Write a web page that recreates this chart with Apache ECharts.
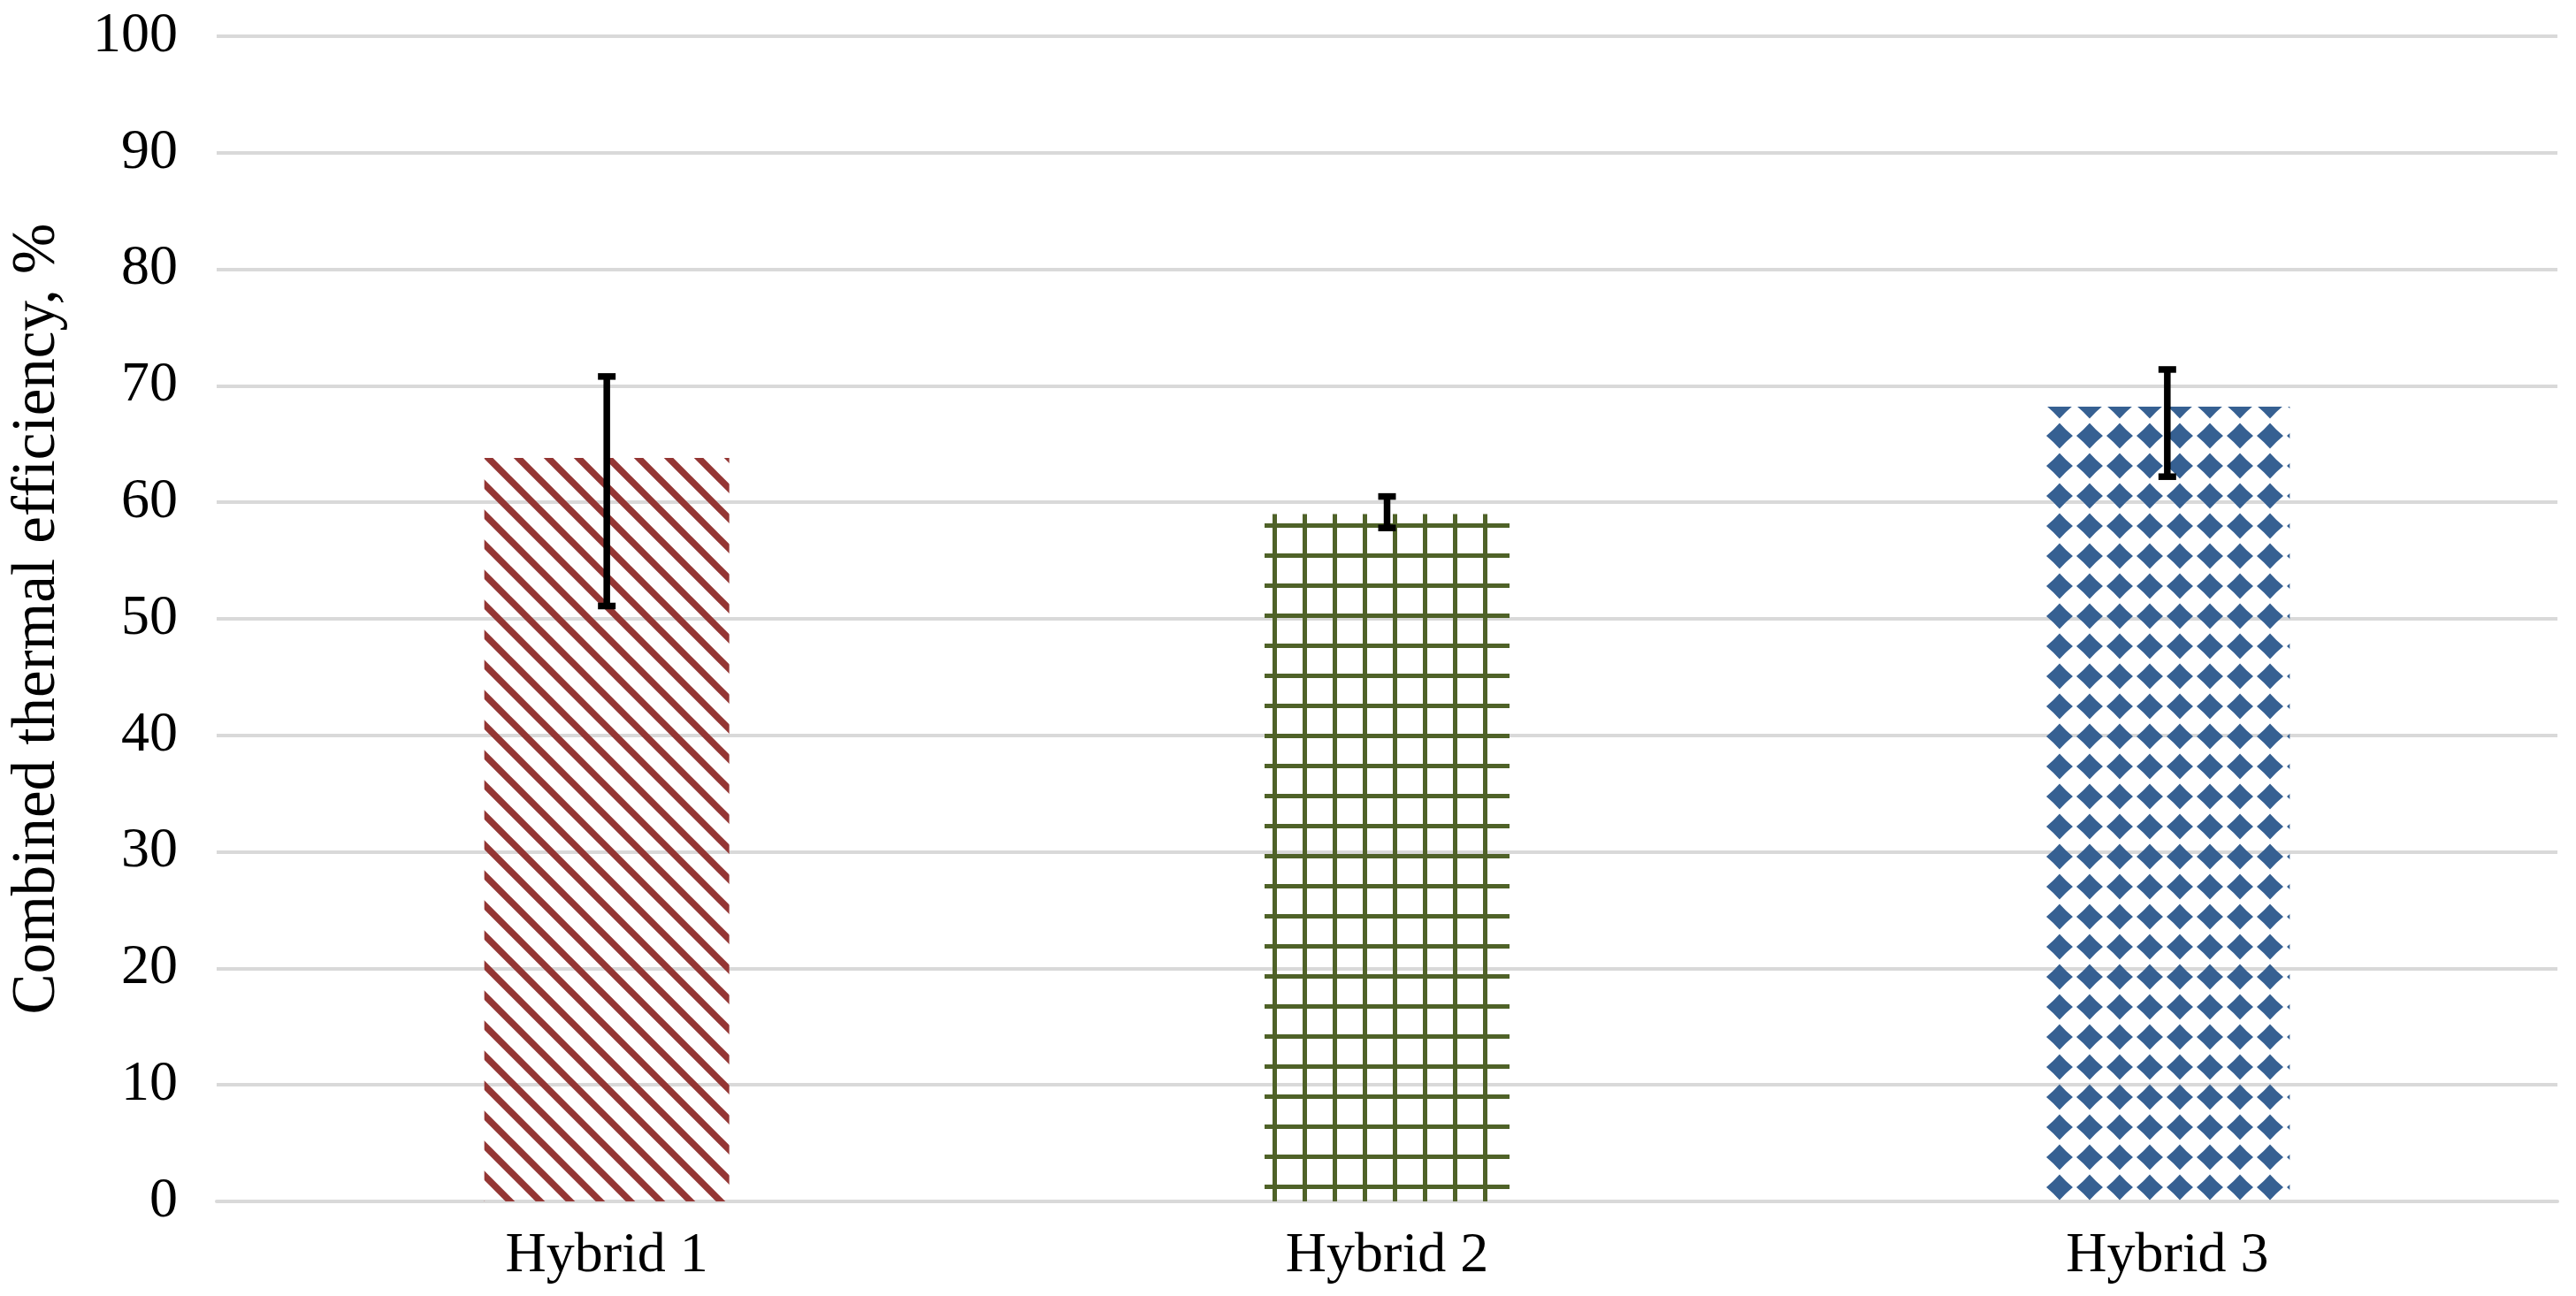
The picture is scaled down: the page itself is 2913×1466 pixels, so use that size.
<!DOCTYPE html>
<html>
<head>
<meta charset="utf-8">
<script src="https://cdn.jsdelivr.net/npm/echarts@6/dist/echarts.min.js"></script>
<style>
html,body{margin:0;padding:0;background:#fff;}
#chart{width:2913px;height:1466px;}
</style>
</head>
<body>
<div id="chart"></div>
<script>
// ---- data ----
const categories = ['Hybrid 1', 'Hybrid 2', 'Hybrid 3'];
const efficiency = [63.8, 59.0, 68.2];
const errLow = [51.1, 57.8, 62.2];
const errHigh = [70.8, 60.5, 71.4];
const yMin = 0, yMax = 100, yStep = 10;
const yTitle = 'Combined thermal efficiency, %';

// ---- patterns (style only) ----
function tile(draw) {
  const c = document.createElement('canvas');
  c.width = 34; c.height = 34;
  const ctx = c.getContext('2d');
  draw(ctx);
  return c;
}
const stripeTile = tile(ctx => {
  ctx.strokeStyle = '#943634';
  ctx.lineWidth = 7.5;
  ctx.beginPath();
  [-34, 0, 34].forEach(o => { ctx.moveTo(o - 10, -10); ctx.lineTo(o + 44, 44); });
  ctx.stroke();
});
const gridTile = tile(ctx => {
  ctx.fillStyle = '#4F6228';
  ctx.fillRect(11, 0, 5, 34);
  ctx.fillRect(0, 14, 34, 5);
});
const diamondTile = tile(ctx => {
  ctx.fillStyle = '#366092';
  const cx = 17, cy = 17, w = 15, h = 14.5, k = 6.8;
  ctx.beginPath();
  ctx.moveTo(cx - w, cy);
  ctx.quadraticCurveTo(cx - k, cy - k, cx, cy - h);
  ctx.quadraticCurveTo(cx + k, cy - k, cx + w, cy);
  ctx.quadraticCurveTo(cx + k, cy + k, cx, cy + h);
  ctx.quadraticCurveTo(cx - k, cy + k, cx - w, cy);
  ctx.closePath();
  ctx.fill();
});
const tiles = [stripeTile, gridTile, diamondTile];

const FONT = '"Liberation Serif", "DejaVu Serif", serif';
const chart = echarts.init(document.getElementById('chart'), null, {renderer: 'canvas'});

const barData = efficiency.map((v, i) => ({
  value: v,
  itemStyle: {color: {image: tiles[i], repeat: 'repeat'}}
}));
const errData = categories.map((c, i) => [i, errLow[i], errHigh[i]]);

chart.setOption({
  animation: false,
  backgroundColor: '#ffffff',
  grid: {left: 242, right: 21, top: 41, bottom: 107, containLabel: false},
  xAxis: {
    type: 'category',
    data: categories,
    axisLine: {show: true, lineStyle: {color: '#d9d9d9', width: 4}},
    axisTick: {show: false},
    axisLabel: {color: '#000', fontFamily: FONT, fontSize: 64, margin: 30}
  },
  yAxis: {
    type: 'value',
    min: yMin, max: yMax, interval: yStep,
    name: yTitle,
    nameLocation: 'middle',
    nameGap: 168,
    nameTextStyle: {color: '#000', fontFamily: FONT, fontSize: 69},
    axisLine: {show: false},
    axisTick: {show: false},
    axisLabel: {color: '#000', fontFamily: FONT, fontSize: 64, margin: 44},
    splitLine: {lineStyle: {color: '#d9d9d9', width: 4}}
  },
  series: [
    {
      type: 'bar',
      data: barData,
      barWidth: 277,
      z: 2
    },
    {
      type: 'custom',
      z: 5,
      data: errData,
      encode: {x: 0, y: [1, 2]},
      renderItem: function (params, api) {
        const x = api.value(0);
        const lo = api.coord([x, api.value(1)]);
        const hi = api.coord([x, api.value(2)]);
        const cw = 10;
        const st = {stroke: '#000', lineWidth: 7.5, fill: null};
        return {
          type: 'group',
          children: [
            {type: 'line', shape: {x1: lo[0], y1: lo[1], x2: hi[0], y2: hi[1]}, style: st},
            {type: 'line', shape: {x1: hi[0] - cw, y1: hi[1], x2: hi[0] + cw, y2: hi[1]}, style: st},
            {type: 'line', shape: {x1: lo[0] - cw, y1: lo[1], x2: lo[0] + cw, y2: lo[1]}, style: st}
          ]
        };
      }
    }
  ]
});
</script>
</body>
</html>
